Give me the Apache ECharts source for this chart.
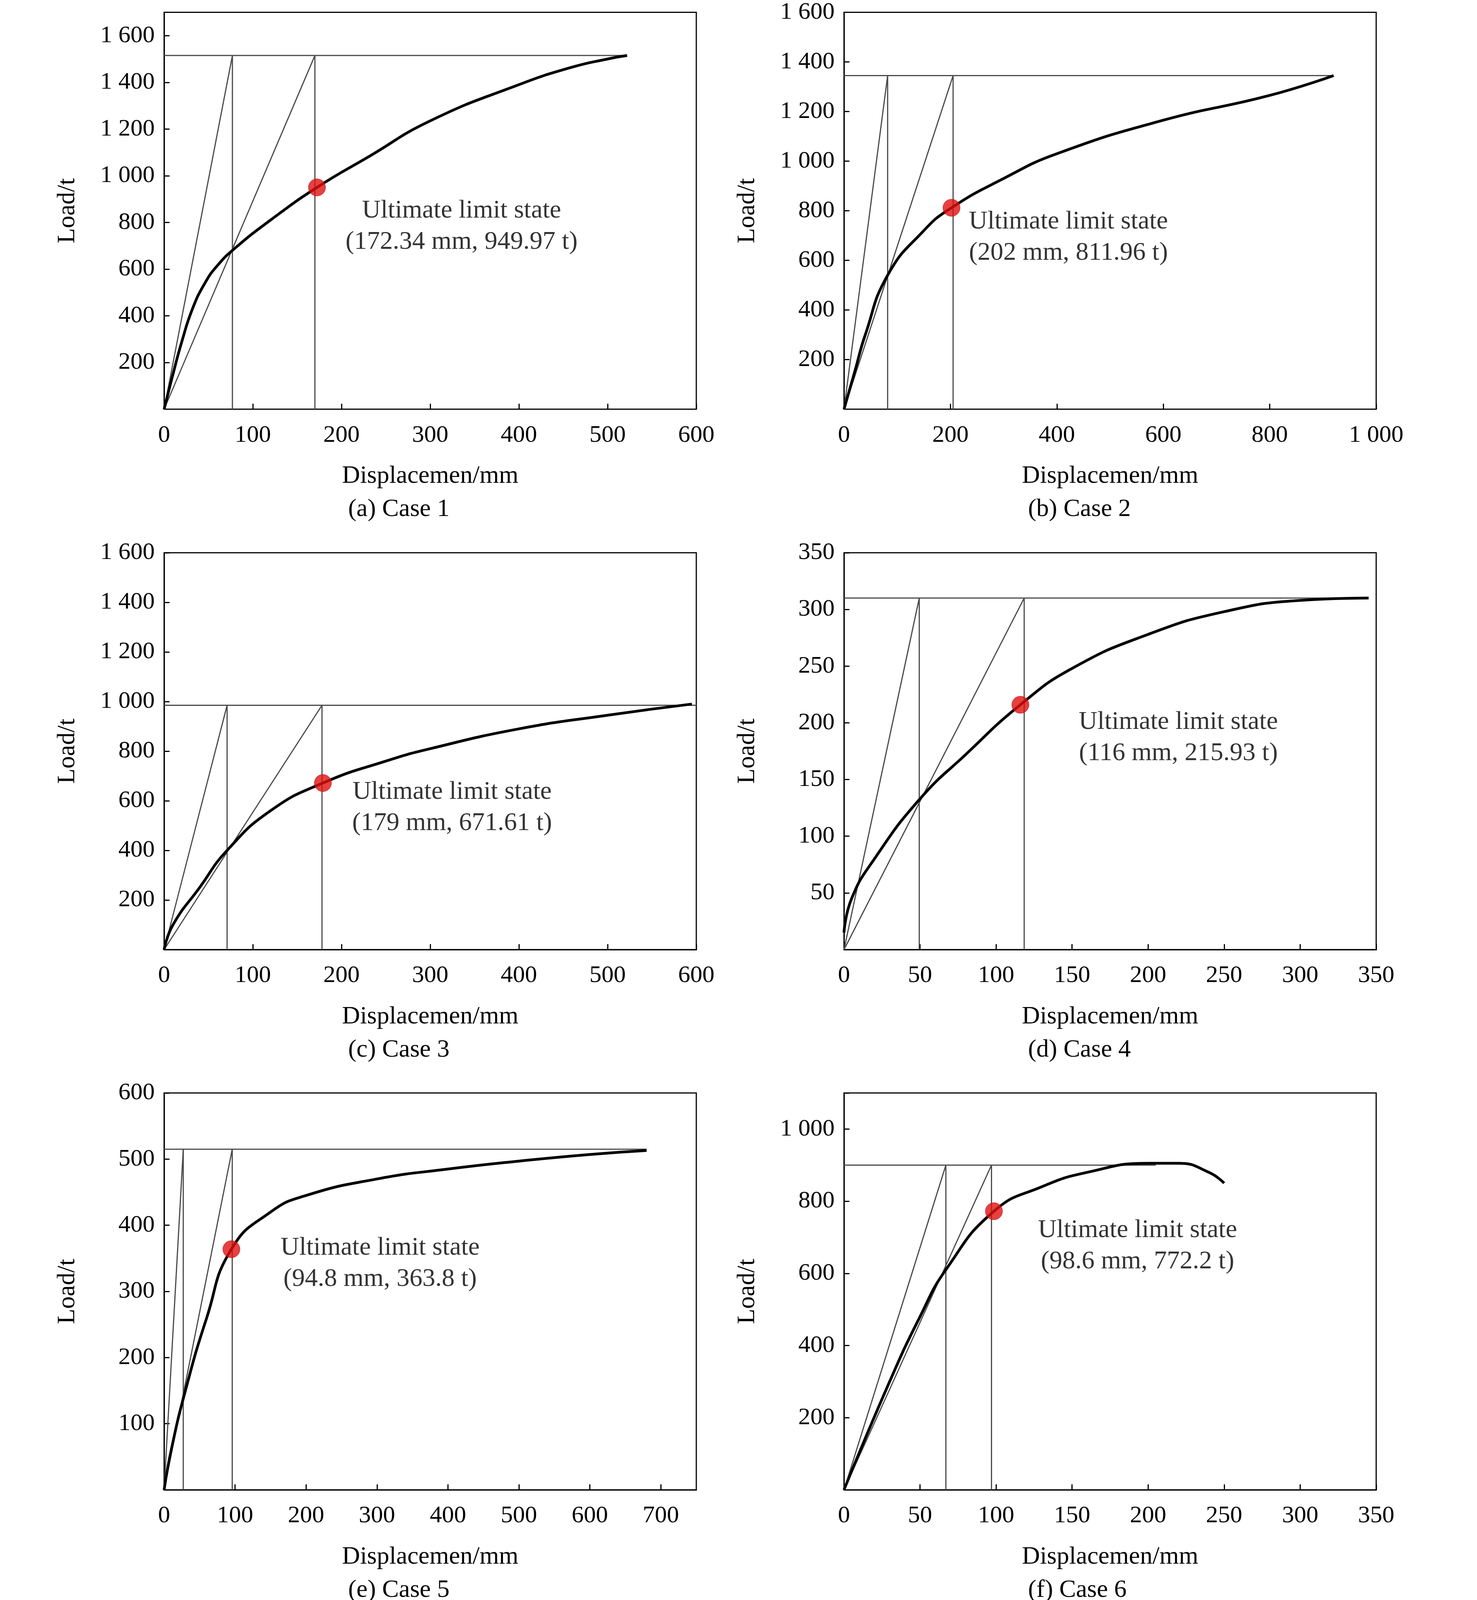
<!DOCTYPE html>
<html><head><meta charset="utf-8">
<script src="https://cdn.jsdelivr.net/npm/echarts@6/dist/echarts.min.js"></script>
<style>html,body{margin:0;background:#fff}#c{width:3780px;height:4119px}</style>
</head><body><div id="c"></div>
<script>
// ---- data ----
const captions = ["(a) Case 1","(b) Case 2","(c) Case 3","(d) Case 4","(e) Case 5","(f) Case 6"];
const xMax = [600,1000,600,350,750,350];
const xInterval = [100,200,100,50,100,50];
const yMax = [1700,1600,1600,350,600,1100];
const yInterval = [200,200,200,50,100,200];
const curve1 = [[0,0],[10,150],[20,290],[32,430],[46,540],[60,615],[80,690],[120,810],[172.34,949.97],[230,1080],[300,1235],[400,1390],[460,1465],[500,1500],[522,1515]];
const curve2 = [[0,0],[20,150],[40,300],[82,540],[150,720],[202,811.96],[300,930],[400,1030],[600,1165],[800,1265],[920,1345]];
const curve3 = [[0,0],[10,100],[40,250],[71,400],[120,560],[179,671.61],[250,760],[300,810],[400,890],[500,945],[595,990]];
const curve4 = [[0,15],[5,45],[20,80],[50,133],[80,172],[116,215.93],[150,248],[200,278],[250,298],[300,308],[345,310]];
const curve5 = [[0,0],[10,60],[30,150],[60,260],[94.8,363.8],[150,420],[200,445],[300,470],[400,485],[500,497],[600,507],[680,513]];
const curve6 = [[0,0],[30,300],[50,480],[67,610],[98.6,772.2],[130,840],[160,880],[200,905],[220,905],[240,880],[250,850]];
const curves = [curve1,curve2,curve3,curve4,curve5,curve6];
const peakLoad = [1515,1345,985,310,515,900];
const peakEndX = [520,920,600,345,680,205];
const tangentX1 = [77,82,71,49.5,27,67];
const tangentX2 = [170,205,178,118.5,96,97];
const ulsPoints = [[172.34,949.97],[202,811.96],[179,671.61],[116,215.93],[94.8,363.8],[98.6,772.2]];
const ulsLabels = ["(172.34 mm, 949.97 t)","(202 mm, 811.96 t)","(179 mm, 671.61 t)","(116 mm, 215.93 t)","(94.8 mm, 363.8 t)","(98.6 mm, 772.2 t)"];
const labelOffsets = [[141,38],[114,29],[126,24],[154,32],[145,14],[140,34]];

// ---- layout ----
const S = 2.625;
const lefts = [420,2160];
const tops = [31.5,1415,2798];
const W = 1362, H = 1016;
const font = "Liberation Serif";
const fmt = v => { const s = String(Math.round(v)); return s.length>3 ? s.slice(0,-3)+" "+s.slice(-3) : s; };

const grid=[],xAxis=[],yAxis=[],series=[],graphic=[];
for(let i=0;i<6;i++){
  const L = lefts[i%2], T = tops[Math.floor(i/2)];
  grid.push({left:L,top:T,width:W,height:H,show:true,borderColor:'#000',borderWidth:3,backgroundColor:'#fff'});
  xAxis.push({gridIndex:i,type:'value',min:0,max:xMax[i],interval:xInterval[i],
    name:'Displacemen/mm',nameLocation:'middle',nameGap:140,nameTextStyle:{fontFamily:font,fontSize:64,color:'#000'},
    axisLine:{lineStyle:{color:'#000',width:3}},axisTick:{inside:true,length:14,lineStyle:{color:'#000',width:3}},
    splitLine:{show:false},axisLabel:{fontFamily:font,fontSize:62,color:'#000',margin:36,formatter:fmt,showMaxLabel:xMax[i]%xInterval[i]===0}});
  yAxis.push({gridIndex:i,type:'value',min:0,max:yMax[i],interval:yInterval[i],
    name:'Load/t',nameLocation:'middle',nameGap:215,nameTextStyle:{fontFamily:font,fontSize:64,color:'#000'},
    axisLine:{lineStyle:{color:'#000',width:3}},axisTick:{inside:true,length:14,lineStyle:{color:'#000',width:3}},
    splitLine:{show:false},axisLabel:{fontFamily:font,fontSize:62,color:'#000',margin:24,
      formatter:v=> (v===0||v>yMax[i]-yInterval[i]/2 && yMax[i]%yInterval[i]!==0)?'':fmt(v)}});
  const P = peakLoad[i];
  const thin = {color:'#4a4a4a',width:3};
  const lines = [
    [[0,P],[peakEndX[i],P]],
    [[0,0],[tangentX1[i],P]],[[tangentX1[i],P],[tangentX1[i],0]],
    [[0,0],[tangentX2[i],P]],[[tangentX2[i],P],[tangentX2[i],0]]
  ];
  lines.forEach(d=>series.push({type:'line',xAxisIndex:i,yAxisIndex:i,data:d,symbol:'none',lineStyle:thin,silent:true,z:2}));
  series.push({type:'line',xAxisIndex:i,yAxisIndex:i,data:curves[i],symbol:'none',smooth:0.5,lineStyle:{color:'#000',width:7},z:3});
  series.push({type:'scatter',xAxisIndex:i,yAxisIndex:i,data:[ulsPoints[i]],symbolSize:44,
    itemStyle:{color:'#e01010',borderColor:'#b00',borderWidth:1},z:5,
    label:{show:true,position:'inside',offset:[labelOffsets[i][0]*S,labelOffsets[i][1]*S],
      formatter:'Ultimate limit state\n'+ulsLabels[i],fontFamily:font,fontSize:66,lineHeight:80,color:'#000',align:'center'}});
  graphic.push({type:'text',left:L+W/2-210,top:T+H+225,style:{text:captions[i],fontFamily:font,fontSize:64,fill:'#000'}});
}
const chart = echarts.init(document.getElementById('c'));
chart.setOption({animation:false,backgroundColor:'#fff',grid,xAxis,yAxis,series,graphic});
</script></body></html>
